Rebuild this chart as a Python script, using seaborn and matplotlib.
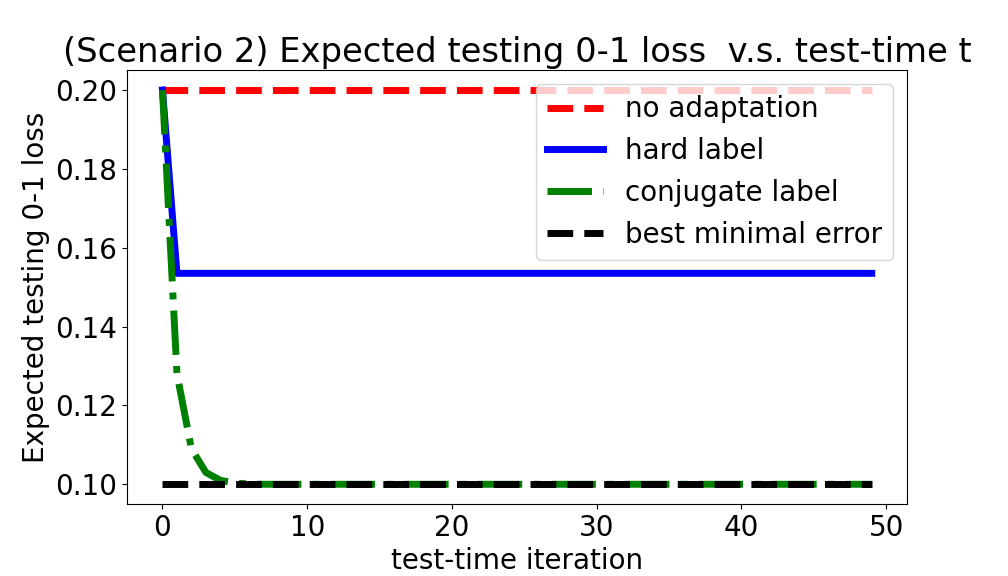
import numpy as np
import pandas as pd
import matplotlib
matplotlib.use('Agg')
import matplotlib.pyplot as plt
import seaborn as sns

# test-time iterations 0..49
iterations = list(range(50))

no_adaptation = [0.2] * 50
hard_label = [0.2] + [0.1535] * 49
conjugate_label = [0.2, 0.128, 0.109, 0.103, 0.101, 0.1003, 0.1001] + [0.1] * 43
best_minimal_error = [0.1] * 50

series_labels = ['no adaptation', 'hard label', 'conjugate label', 'best minimal error']
series_colors = ['red', 'blue', 'green', 'black']
series_styles = ['--', '-', '-.', '--']

plt.rcParams['font.size'] = 20

fig, ax = plt.subplots(figsize=(10.08, 5.76), dpi=100)
fig.subplots_adjust(left=0.126, right=0.9, bottom=0.125, top=0.878)

for values, label, color, ls in zip(
        [no_adaptation, hard_label, conjugate_label, best_minimal_error],
        series_labels, series_colors, series_styles):
    df = pd.DataFrame({'t': iterations, 'loss': values})
    sns.lineplot(data=df, x='t', y='loss', ax=ax, color=color,
                 linestyle=ls, linewidth=5, label=label)

ax.set_title('(Scenario 2) Expected testing 0-1 loss  v.s. test-time t', fontsize=24.3)
ax.set_xlabel('test-time iteration')
ax.set_ylabel('Expected testing 0-1 loss')
ax.set_xticks([0, 10, 20, 30, 40, 50])
ax.set_yticks([0.10, 0.12, 0.14, 0.16, 0.18, 0.20])
ax.legend(loc='upper right')

plt.savefig('out.png', dpi=100)
plt.close()
